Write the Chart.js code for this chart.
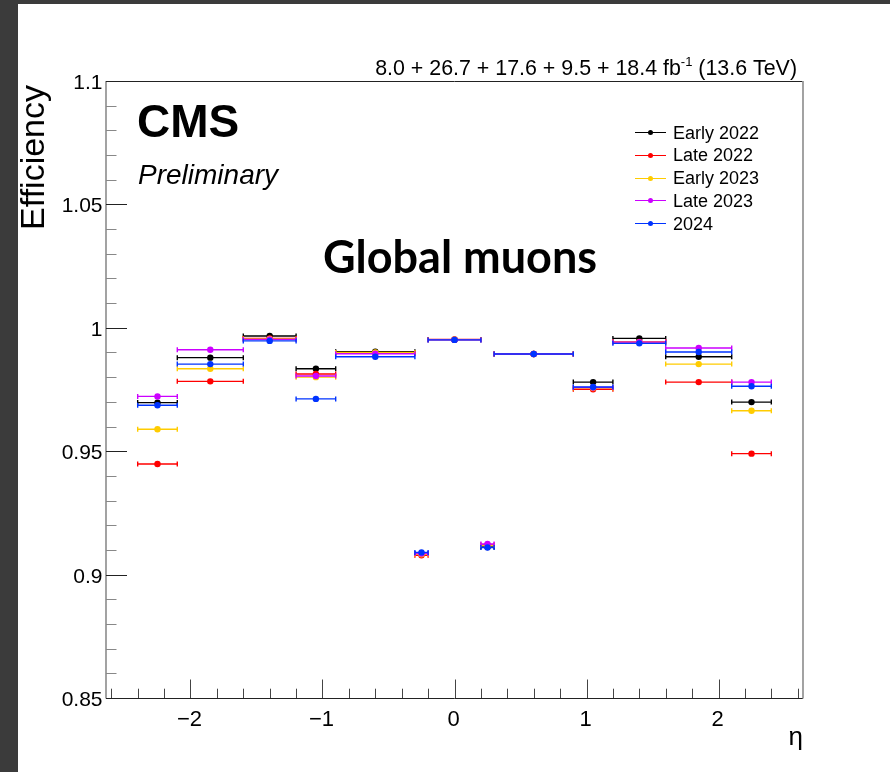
<!DOCTYPE html>
<html>
<head>
<meta charset="utf-8">
<script src="https://cdn.jsdelivr.net/npm/chart.js@4.4.1/dist/chart.umd.min.js"></script>
<style>
  html, body { margin: 0; padding: 0; background: #fff; overflow: hidden; }
  canvas { display: block; }
</style>
</head>
<body>
<canvas id="c" width="890" height="772"></canvas>
<script>
// Pseudorapidity bins (edges and centres)
const binLow     = [-2.4, -2.1, -1.6, -1.2, -0.9, -0.3, -0.2, 0.2, 0.3, 0.9, 1.2, 1.6, 2.1];
const binHigh    = [-2.1, -1.6, -1.2, -0.9, -0.3, -0.2,  0.2, 0.3, 0.9, 1.2, 1.6, 2.1, 2.4];
const etaCenters = [-2.25, -1.85, -1.4, -1.05, -0.6, -0.25, 0, 0.25, 0.6, 1.05, 1.4, 1.85, 2.25];

// Global muon efficiency per data-taking period
const seriesNames = ['Early 2022', 'Late 2022', 'Early 2023', 'Late 2023', '2024'];
const effEarly2022 = [0.9697, 0.9879, 0.9967, 0.9834, 0.9903, 0.9085, 0.9952, 0.9112, 0.9894, 0.9780, 0.9957, 0.9883, 0.9699];
const effLate2022  = [0.9448, 0.9783, 0.9957, 0.9813, 0.9898, 0.9078, 0.9953, 0.9120, 0.9894, 0.9751, 0.9943, 0.9780, 0.9490];
const effEarly2023 = [0.9589, 0.9834, 0.9955, 0.9800, 0.9900, 0.9082, 0.9952, 0.9118, 0.9894, 0.9756, 0.9942, 0.9853, 0.9664];
const effLate2023  = [0.9722, 0.9911, 0.9953, 0.9805, 0.9895, 0.9085, 0.9951, 0.9124, 0.9894, 0.9758, 0.9942, 0.9918, 0.9780];
const eff2024      = [0.9686, 0.9853, 0.9947, 0.9712, 0.9883, 0.9090, 0.9951, 0.9110, 0.9894, 0.9760, 0.9937, 0.9902, 0.9763];
const seriesValues = [effEarly2022, effLate2022, effEarly2023, effLate2023, eff2024];
const seriesColors = ['#000000', '#ff0000', '#ffcc00', '#cc00ff', '#0033ff'];

// Axis ticks
const xTickValues = [-2, -1, 0, 1, 2];
const xTickLabels = ['\u22122', '\u22121', '0', '1', '2'];
const yTickValues = [0.85, 0.9, 0.95, 1, 1.05, 1.1];
const yTickLabels = ['0.85', '0.9', '0.95', '1', '1.05', '1.1'];
const xRange = [-2.64, 2.64];
const yRange = [0.85, 1.1];

const FONT = '"Liberation Sans", Arial, Helvetica, sans-serif';

// later periods are painted over earlier ones
const datasets = seriesNames.map((name, i) => ({
  label: name,
  data: etaCenters.map((x, j) => ({ x: x, y: seriesValues[i][j] })),
  backgroundColor: seriesColors[i],
  borderColor: seriesColors[i],
  pointRadius: 3.2,
  pointBorderWidth: 0,
  pointHoverRadius: 3.2,
  showLine: false,
  order: seriesNames.length - i,
  binLow: binLow,
  binHigh: binHigh
}));

// Horizontal bin-width bars, drawn right before each dataset's markers
const binBars = {
  id: 'binBars',
  beforeDatasetDraw(chart, args) {
    const ds = chart.data.datasets[args.index];
    const xs = chart.scales.x, ys = chart.scales.y;
    const ctx = chart.ctx;
    ctx.save();
    ctx.strokeStyle = ds.borderColor;
    ctx.lineWidth = 1.4;
    ds.data.forEach((p, j) => {
      const x1 = xs.getPixelForValue(ds.binLow[j]);
      const x2 = xs.getPixelForValue(ds.binHigh[j]);
      const y = ys.getPixelForValue(p.y);
      ctx.beginPath();
      ctx.moveTo(x1, y); ctx.lineTo(x2, y);
      ctx.moveTo(x1, y - 2.5); ctx.lineTo(x1, y + 2.5);
      ctx.moveTo(x2, y - 2.5); ctx.lineTo(x2, y + 2.5);
      ctx.stroke();
    });
    ctx.restore();
  }
};

// Page background, frame, ticks, titles and legend
const decor = {
  id: 'decor',
  beforeDraw(chart) {
    const ctx = chart.ctx;
    ctx.save();
    ctx.fillStyle = '#ffffff';
    ctx.fillRect(0, 0, chart.width, chart.height);
    ctx.fillStyle = '#3b3b3b';
    ctx.fillRect(0, 0, chart.width, 4);
    ctx.fillRect(0, 0, 18, chart.height);
    ctx.restore();
  },
  afterDraw(chart) {
    const ctx = chart.ctx;
    const a = chart.chartArea;
    const xs = chart.scales.x, ys = chart.scales.y;
    ctx.save();

    // frame
    ctx.lineWidth = 1;
    ctx.strokeStyle = '#222';
    ctx.beginPath();
    ctx.moveTo(a.left, Math.round(a.top) + 0.5); ctx.lineTo(a.right, Math.round(a.top) + 0.5);
    ctx.moveTo(a.left, Math.round(a.bottom) + 0.5); ctx.lineTo(a.right, Math.round(a.bottom) + 0.5);
    ctx.stroke();
    ctx.strokeStyle = '#999';
    ctx.lineWidth = 1.8;
    ctx.beginPath();
    ctx.moveTo(a.left, a.top); ctx.lineTo(a.left, a.bottom + 0.5);
    ctx.moveTo(a.right, a.top); ctx.lineTo(a.right, a.bottom + 0.5);
    ctx.stroke();

    // y ticks (major + minor), inside the frame on the left axis
    ctx.lineWidth = 1;
    for (let v = yRange[0]; v <= yRange[1] + 1e-9; v += 0.01) {
      const y = Math.round(ys.getPixelForValue(v)) + 0.5;
      const major = yTickValues.some(t => Math.abs(t - v) < 1e-6);
      ctx.strokeStyle = major ? '#222' : '#888';
      ctx.beginPath();
      ctx.moveTo(a.left, y); ctx.lineTo(a.left + (major ? 21 : 10.5), y);
      ctx.stroke();
    }
    // x ticks (major + minor), pointing up from the bottom axis
    ctx.strokeStyle = '#444';
    for (let k = -13; k <= 13; k++) {
      const v = k * 0.2;
      const x = Math.round(xs.getPixelForValue(v)) + 0.5;
      const major = k % 5 === 0;
      ctx.beginPath();
      ctx.moveTo(x, a.bottom); ctx.lineTo(x, a.bottom - (major ? 18.5 : 9.3));
      ctx.stroke();
    }

    // y tick labels
    ctx.fillStyle = '#000';
    ctx.font = '21px ' + FONT;
    ctx.textAlign = 'right';
    ctx.textBaseline = 'alphabetic';
    yTickValues.forEach((v, i) => {
      ctx.fillText(yTickLabels[i], a.left - 3.5, ys.getPixelForValue(v) + 8);
    });
    // x tick labels
    ctx.font = '22px ' + FONT;
    ctx.textAlign = 'center';
    xTickValues.forEach((v, i) => {
      ctx.fillText(xTickLabels[i], xs.getPixelForValue(v) - 1, 725.5);
    });

    // axis titles
    ctx.font = '26px ' + FONT;
    ctx.textAlign = 'right';
    ctx.fillText('\u03B7', a.right, 745);
    ctx.save();
    ctx.translate(44, 85);
    ctx.rotate(-Math.PI / 2);
    ctx.font = '34px ' + FONT;
    ctx.textAlign = 'right';
    ctx.fillText('Efficiency', 0, 0);
    ctx.restore();

    // luminosity label (right-aligned, with superscript)
    const lumiMain = '8.0 + 26.7 + 17.6 + 9.5 + 18.4 fb';
    const lumiSup = '-1';
    const lumiTail = ' (13.6 TeV)';
    ctx.textAlign = 'left';
    ctx.font = '21.4px ' + FONT;
    const wTail = ctx.measureText(lumiTail).width;
    const wMain = ctx.measureText(lumiMain).width;
    ctx.font = '13px ' + FONT;
    const wSup = ctx.measureText(lumiSup).width;
    let x0 = 797 - wTail - wSup - wMain;
    ctx.font = '21.4px ' + FONT;
    ctx.fillText(lumiMain, x0, 75);
    ctx.font = '13px ' + FONT;
    ctx.fillText(lumiSup, x0 + wMain, 66);
    ctx.font = '21.4px ' + FONT;
    ctx.fillText(lumiTail, x0 + wMain + wSup, 75);

    // CMS / Preliminary
    ctx.font = 'bold 46px ' + FONT;
    ctx.fillText('CMS', 137, 136.5);
    ctx.font = 'italic 28px ' + FONT;
    ctx.fillText('Preliminary', 138, 184);

    // plot caption
    ctx.font = 'bold 45px Lato, "Open Sans", sans-serif';
    ctx.textAlign = 'center';
    ctx.fillText('Global muons', 460, 273);

    // legend
    ctx.font = '18px ' + FONT;
    ctx.textAlign = 'left';
    seriesNames.forEach((name, i) => {
      const y = 132 + i * 22.8;
      ctx.strokeStyle = seriesColors[i];
      ctx.lineWidth = 1;
      ctx.beginPath();
      ctx.moveTo(635, Math.round(y) + 0.5); ctx.lineTo(666, Math.round(y) + 0.5);
      ctx.stroke();
      ctx.fillStyle = seriesColors[i];
      ctx.beginPath();
      ctx.arc(650.5, Math.round(y) + 0.5, 2.5, 0, Math.PI * 2);
      ctx.fill();
      ctx.fillStyle = '#000';
      ctx.fillText(name, 673, y + 6.5);
    });

    ctx.restore();
  }
};

new Chart(document.getElementById('c'), {
  type: 'scatter',
  data: { datasets: datasets },
  options: {
    responsive: false,
    animation: false,
    devicePixelRatio: 1,
    layout: { padding: { left: 106, top: 81, right: 87, bottom: 74 } },
    scales: {
      x: { type: 'linear', min: xRange[0], max: xRange[1], display: false },
      y: { type: 'linear', min: yRange[0], max: yRange[1], display: false }
    },
    plugins: {
      legend: { display: false },
      tooltip: { enabled: false }
    }
  },
  plugins: [binBars, decor]
});
</script>
</body>
</html>
